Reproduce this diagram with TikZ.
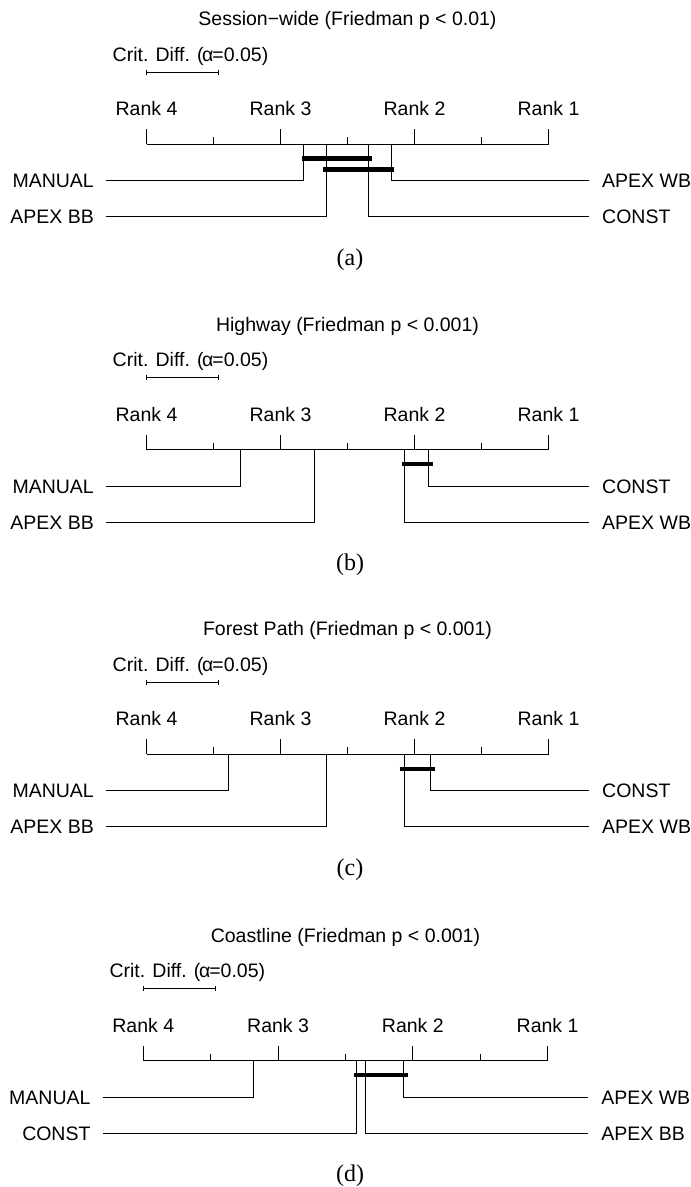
\documentclass[tikz,border=0pt]{standalone}
\usepackage{fontspec}
\setmainfont{Liberation Sans}
\newfontfamily\capserif{Liberation Serif}

% One critical-difference panel: title, CD scale, rank axis and caption.
% #1 prefix, #2 axis y, #3 x of Rank 4, #4 x of Rank 1, #5 title, #6 caption letter
\newcommand{\cdpanel}[6]{%
  \pgfmathsetmacro\cdmid{(#3+#4)/2}%
  \pgfmathsetmacro\cdstep{(#4-#3)/6}%
  \node[lbl, anchor=base] (#1title) at (\cdmid,#2-118.5) {#5};
  \node[lbl, anchor=base west] (#1cdtext) at (#3-34,#2-83) {Crit. Diff. ({\kern-1.5pt}α{\kern-1pt}=0.05)};
  \coordinate (#1cda) at (#3,#2-72);
  \coordinate (#1cdb) at (#3+1.07*\cdstep,#2-72);
  \draw[axisline] (#1cda) -- (#1cdb);
  \draw[axisline] ($(#1cda)+(0,-2.5)$) -- ($(#1cda)+(0,2.5)$);
  \draw[axisline] ($(#1cdb)+(0,-2.5)$) -- ($(#1cdb)+(0,2.5)$);
  \coordinate (#1r4) at (#3,#2);
  \coordinate (#1r1) at (#4,#2);
  \draw[axisline] (#1r4) -- (#1r1);
  \foreach \k in {0,...,6}{%
    \pgfmathsetmacro\tl{mod(\k,2)==0 ? 14.7 : 7}%
    \draw[axisline] (#3+\k*\cdstep,#2) -- ++(0,-\tl);
  }
  \foreach \k/\r in {0/4,2/3,4/2,6/1}{%
    \node[lbl, anchor=base] (#1rank\r) at (#3+\k*\cdstep,#2-28.2) {Rank \r};
  }
  \node[captext, anchor=base] (#1cap) at (350,#2+121) {(#6)};
}

% Method on the left side: name, x on axis, axis y, row y, line start x, text
\newcommand{\methodL}[6]{%
  \coordinate (#1pt) at (#2,#3);
  \node[mleft] (#1) at (#5,#4) {#6};
  \draw[link] (#1pt) |- (#1);
}
% Method on the right side: name, x on axis, axis y, row y, line end x, text
\newcommand{\methodR}[6]{%
  \coordinate (#1pt) at (#2,#3);
  \node[mright] (#1) at (#5,#4) {#6};
  \draw[link] (#1pt) |- (#1);
}
% Group of methods without significant difference
\newcommand{\clique}[4]{%
  \coordinate (#1s) at (#2,#4);
  \coordinate (#1e) at (#3,#4);
  \draw[cliquebar] (#1s) -- (#1e);
}

\usetikzlibrary{calc}

\begin{document}
\begin{tikzpicture}[x=1pt,y=-1pt,
  lbl/.style={font=\fontsize{19.5}{22}\selectfont, inner sep=0pt},
  captext/.style={font=\capserif\fontsize{24}{26}\selectfont, inner sep=0pt},
  mleft/.style={lbl, anchor=east, inner xsep=12pt, text height=14pt, text depth=0pt},
  mright/.style={lbl, anchor=west, inner xsep=13.5pt, text height=14pt, text depth=0pt},
  axisline/.style={line width=0.9pt, line cap=butt},
  link/.style={line width=0.9pt},
  cliquebar/.style={line width=4.5pt, line cap=butt}]
\useasboundingbox (0,0) rectangle (691,1187);
\fill[white] (0,0) rectangle (691,1187);

% (a) Session-wide
\cdpanel{a}{144}{146.5}{548.5}{Session−wide (Friedman p < 0.01)}{a}
\methodL{aman}{303.8}{144}{180.5}{106}{MANUAL}
\methodL{abb}{326.7}{144}{216.7}{106}{APEX BB}
\methodR{aconst}{368.2}{144}{216.7}{588.5}{CONST}
\methodR{awb}{391.5}{144}{180.5}{588.5}{APEX WB}
\clique{aq1}{301.6}{371.7}{158.3}
\clique{aq2}{323.2}{393.7}{169.3}

% (b) Highway
\cdpanel{b}{449.7}{146.5}{548.5}{Highway (Friedman p < 0.001)}{b}
\methodL{bman}{240.7}{449.7}{486.2}{106}{MANUAL}
\methodL{bbb}{314.4}{449.7}{522.4}{106}{APEX BB}
\methodR{bconst}{428.6}{449.7}{486.2}{588.5}{CONST}
\methodR{bwb}{404.3}{449.7}{522.4}{588.5}{APEX WB}
\clique{bq1}{401.7}{433.4}{463.8}

% (c) Forest Path
\cdpanel{c}{754}{146.5}{548.5}{Forest Path (Friedman p < 0.001)}{c}
\methodL{cman}{228}{754}{790.5}{106}{MANUAL}
\methodL{cbb}{326.7}{754}{826.7}{106}{APEX BB}
\methodR{cconst}{430.3}{754}{790.5}{588.5}{CONST}
\methodR{cwb}{404.3}{754}{826.7}{588.5}{APEX WB}
\clique{cq1}{399.5}{435.2}{768.8}

% (d) Coastline
\cdpanel{d}{1060.5}{143.3}{547.6}{Coastline (Friedman p < 0.001)}{d}
\methodL{dman}{253.5}{1060.5}{1097}{102.7}{MANUAL}
\methodL{dconst}{356.1}{1060.5}{1133.2}{102.7}{CONST}
\methodR{dwb}{403.8}{1060.5}{1097}{587.7}{APEX WB}
\methodR{dbb}{365.8}{1060.5}{1133.2}{587.7}{APEX BB}
\clique{dq1}{353.5}{408}{1074.8}
\end{tikzpicture}
\end{document}
